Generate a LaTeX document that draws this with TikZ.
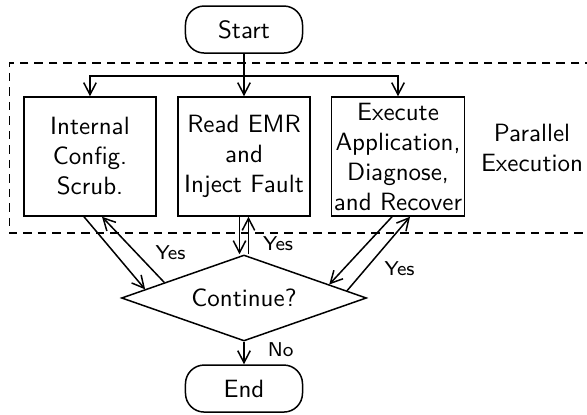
\documentclass[tikz,border=0pt]{standalone}
\usetikzlibrary{arrows.meta, positioning, shapes.geometric}
\tikzset{
  every picture/.style={font=\sffamily, line width=0.6pt},
  terminal/.style={draw, rounded corners=7.5pt, minimum width=1.645cm, minimum height=0.661cm, inner sep=1pt},
  task/.style={draw, align=center, minimum width=1.856cm, minimum height=1.673cm, inner sep=1pt},
  decision/.style={draw, diamond, aspect=2.85, minimum width=3.444cm, minimum height=1.209cm, inner sep=0pt},
  arrow/.style={-{Straight Barb[length=4.8pt, width=5pt]}},
  lbl/.style={font=\sffamily\footnotesize, inner sep=1pt},
  region/.style={dash pattern=on 3.4pt off 2.4pt},
}

\begin{document}
\begin{tikzpicture}
  \useasboundingbox (0,0) rectangle (8.252,5.820);
  % parallel part
  \draw[region] (8.35,4.934) -| (0.131,2.545) -- (8.35,2.545);
  \node[align=center] (par) at (7.479,3.739) {Parallel\\Execution};
  % flow
  \node[terminal] (start) at (3.430,5.405) {Start};
  \node[task] (b1) at (1.265,3.620) {Internal\\Config.\\Scrub.};
  \node[task] (b2) at (3.430,3.620) {Read EMR\\and\\Inject Fault};
  \node[task] (b3) at (5.595,3.620) {Execute\\Application,\\Diagnose,\\and Recover};
  \node[decision] (dia) at (3.430,1.631) {Continue?};
  \node[terminal] (stop) at (3.430,0.358) {End};
  \coordinate (split) at ([yshift=-0.309cm]start.south);
  \draw[arrow] (start) -- (b2);
  \draw[arrow] (split) -| (b1);
  \draw[arrow] (split) -| (b3);
  % back and forth
  \draw[arrow] ([xshift=-0.084cm]b1.south) -- (dia.175);
  \draw[arrow] (dia.169) -- node[lbl, right=0.225cm, pos=0.45] (y1) {Yes} ([xshift=0.169cm]b1.south);
  \draw[arrow] ([xshift=-0.063cm]b2.south) -- ([xshift=-0.063cm]dia.north);
  \draw[arrow] ([xshift=0.063cm]dia.north) -- node[lbl, right=0.16cm, pos=0.28] (y2) {Yes} ([xshift=0.063cm]b2.south);
  \draw[arrow] ([xshift=-0.084cm]b3.south) -- (dia.9);
  \draw[arrow] (dia.4) -- node[lbl, right=0.218cm, pos=0.3] (y3) {Yes} ([xshift=0.169cm]b3.south);
  \draw[arrow] (dia) -- node[lbl, right=0.29cm, pos=0.35] (no) {No} (stop);
\end{tikzpicture}
\end{document}
